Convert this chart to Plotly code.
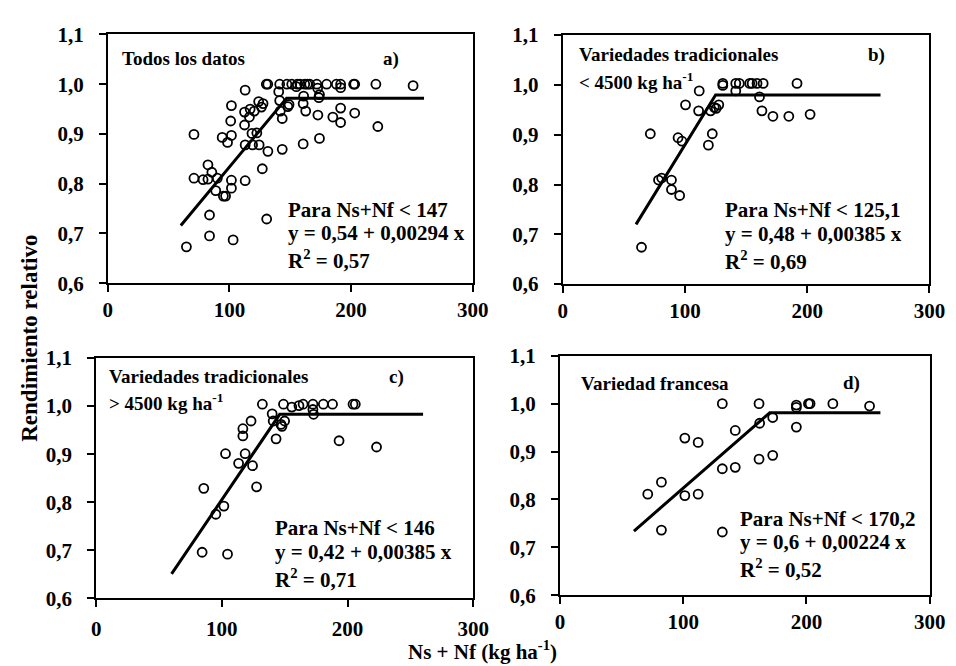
import plotly.graph_objects as go

W, H = 956, 666

# ---------------- data ----------------
x_ticks = [0, 100, 200, 300]
x_ticktext = ["0", "100", "200", "300"]
y_ticks = [0.6, 0.7, 0.8, 0.9, 1.0, 1.1]
y_ticktext = ["0,6", "0,7", "0,8", "0,9", "1,0", "1,1"]

# a) Todos los datos
a_x = [130.3, 131.5, 141.3, 147.2, 151.2, 155.8, 158, 161.9, 164, 166, 171.8, 179.9, 187.9, 191.4, 202.1, 203, 220.4, 251,
       155, 172.5, 191.4,
       112.9, 140.5, 141.3, 174, 173.5, 149, 148, 161, 160.6, 162.7, 172.7, 185, 191.4, 191.4, 203, 222,
       141.8, 143.4, 143.4, 160.6, 174, 131.6, 127, 130.6,
       101.6, 101, 101.6, 94, 98.4, 112.4, 112.4, 116.4, 117, 120.4, 124, 127.6, 126.3, 118.5, 122.5, 119, 124.4, 112.9,
       112.9, 101.6, 101.6, 82.3, 85.5, 70.8, 78.3, 82.3, 90, 88.7, 95, 96.8, 70.8, 83.6, 83.6, 103, 64.6]
a_y = [1.0, 1.0, 1.0, 1.0, 1.0, 1.0, 1.0, 1.0, 1.0, 1.0, 1.0, 1.0, 1.0, 1.0, 1.0, 1.0, 1.0, 0.997,
       0.995, 0.992, 0.993,
       0.988, 0.985, 0.967, 0.979, 0.973, 0.959, 0.955, 0.976, 0.961, 0.946, 0.938, 0.934, 0.952, 0.923, 0.942, 0.915,
       0.946, 0.931, 0.869, 0.880, 0.891, 0.865, 0.830, 0.729,
       0.957, 0.926, 0.897, 0.893, 0.883, 0.944, 0.918, 0.934, 0.950, 0.946, 0.965, 0.961, 0.954, 0.901, 0.902, 0.878, 0.878, 0.878,
       0.806, 0.807, 0.791, 0.838, 0.823, 0.811, 0.808, 0.809, 0.811, 0.786, 0.775, 0.775, 0.899, 0.737, 0.695, 0.687, 0.673]
a_line_x = [60, 147, 260]
a_line_y = [0.716, 0.972, 0.972]

# b) Variedades tradicionales < 4500 kg ha-1
b_x = [71.7, 64.5, 78.4, 81, 89, 89, 95.7, 94.4, 97.6, 100.5, 111.7, 111.2, 119.2, 122.4, 121, 125.6, 127.7, 124,
       131, 131, 141.6, 144.5, 141.6, 153, 155, 159, 164, 161, 163, 172, 185, 191.7, 202.4]
b_y = [0.902, 0.674, 0.809, 0.813, 0.809, 0.790, 0.778, 0.894, 0.887, 0.960, 0.988, 0.948, 0.879, 0.902, 0.948, 0.953, 0.960, 0.955,
       1.003, 0.999, 1.003, 1.003, 0.988, 1.003, 1.003, 1.003, 1.003, 0.976, 0.948, 0.937, 0.937, 1.003, 0.941]
b_line_x = [60, 125.1, 260]
b_line_y = [0.72, 0.98, 0.98]

# c) Variedades tradicionales > 4500 kg ha-1
c_x = [84.3, 85.6, 95.2, 101.6, 102.9, 104.5, 113.3, 116.7, 116.7, 118.5, 123.2, 124.4, 127.6, 132.2, 140, 140.8, 143.1,
       147, 147.8, 149.9, 149, 155.6, 161.3, 164.6, 172.4, 172.4, 172.9, 180.7, 188, 193.2, 204.3, 206.1, 223]
c_y = [0.696, 0.829, 0.775, 0.792, 0.901, 0.692, 0.881, 0.953, 0.938, 0.901, 0.969, 0.876, 0.832, 1.004, 0.984, 0.969, 0.932,
       0.962, 0.958, 0.969, 1.004, 0.998, 1.001, 1.004, 1.004, 0.993, 0.983, 1.004, 1.004, 0.928, 1.004, 1.004, 0.915]
c_line_x = [60, 146, 260]
c_line_y = [0.651, 0.983, 0.983]

# d) Variedad francesa
d_x = [71.2, 82.3, 82.3, 101.3, 101.3, 112.1, 112.1, 131.7, 131.7, 131.7, 142.2, 142.2, 161.5, 162, 161.5,
       172.6, 172.6, 191.8, 191.8, 191.8, 201.6, 202.9, 221.4, 251.2]
d_y = [0.811, 0.836, 0.736, 0.928, 0.808, 0.919, 0.811, 1.0, 0.864, 0.732, 0.944, 0.867, 1.0, 0.959, 0.884,
       0.971, 0.892, 0.997, 0.992, 0.951, 1.0, 1.0, 1.0, 0.995]
d_line_x = [60, 170.2, 260]
d_line_y = [0.734, 0.981, 0.981]

# ---------------- layout helpers ----------------
def px(x):
    return x / W

def py(y):
    return 1 - y / H

FONT = "Liberation Serif"

panels = [
    # (data x, data y, line x, line y, pixel box [x0, x1, ytop, ybottom], x tick label standoff)
    (a_x, a_y, a_line_x, a_line_y, [97, 470, 15, 273], 0),
    (b_x, b_y, b_line_x, b_line_y, [562, 937, 15.7, 274], 0),
    (c_x, c_y, c_line_x, c_line_y, [85, 470.7, 350.7, 600], 3),
    (d_x, d_y, d_line_x, d_line_y, [559.3, 937.3, 348.3, 596.7], 0),
]

fig = go.Figure()
layout_axes = {}
for i, (sx, sy, lx, ly, box, xsoff) in enumerate(panels, start=1):
    xn = "x" if i == 1 else f"x{i}"
    yn = "y" if i == 1 else f"y{i}"
    fig.add_trace(go.Scatter(x=sx, y=sy, mode="markers", xaxis=xn, yaxis=yn,
                             marker=dict(symbol="circle-open", size=9, color="black",
                                         line=dict(width=1.8, color="black")),
                             showlegend=False, hoverinfo="skip"))
    fig.add_trace(go.Scatter(x=lx, y=ly, mode="lines", xaxis=xn, yaxis=yn,
                             line=dict(color="black", width=3),
                             showlegend=False, hoverinfo="skip"))
    common = dict(showline=True, linewidth=2, linecolor="black", mirror=True,
                  showgrid=False, zeroline=False, ticks="outside", ticklen=7,
                  tickwidth=2, tickcolor="black",
                  tickfont=dict(family=FONT, size=21, color="black", weight="bold"))
    layout_axes["xaxis" if i == 1 else f"xaxis{i}"] = dict(
        domain=[px(box[0]), px(box[1])], range=[0, 300], tickvals=x_ticks, ticktext=x_ticktext,
        anchor=yn, ticklabelstandoff=xsoff, **common)
    layout_axes["yaxis" if i == 1 else f"yaxis{i}"] = dict(
        domain=[py(box[3]), py(box[2])], range=[0.6, 1.1], tickvals=y_ticks, ticktext=y_ticktext,
        anchor=xn, ticklabelstandoff=11, **common)

annots = []

def txt(s, x, y, size=21, xanchor="left", angle=0):
    annots.append(dict(text=s, x=px(x), y=py(y), xref="paper", yref="paper",
                       xanchor=xanchor, yanchor="middle", showarrow=False, textangle=angle,
                       font=dict(family=FONT, size=size, color="black", weight="bold")))

# panel a
txt("Todos los datos", 109, 40, 19)
txt("a)", 376, 40, 19)
txt("Para Ns+Nf < 147", 279, 197)
txt("y = 0,54 + 0,00294 x", 279, 221)
txt("R<sup>2</sup> = 0,57", 279, 248)
# panel b
txt("Variedades tradicionales", 577, 36, 19)
txt("< 4500 kg ha<sup>-1</sup>", 577, 63, 19)
txt("b)", 872, 36, 19)
txt("Para Ns+Nf < 125,1", 726, 197)
txt("y = 0,48 + 0,00385 x", 726, 222)
txt("R<sup>2</sup> = 0,69", 726, 249)
# panel c
txt("Variedades tradicionales", 96, 370, 19)
txt("> 4500 kg ha<sup>-1</sup>", 96, 396, 19)
txt("c)", 382, 370, 19)
txt("Para Ns+Nf < 146", 266, 527)
txt("y = 0,42 + 0,00385 x", 266, 552)
txt("R<sup>2</sup> = 0,71", 266, 579)
# panel d
txt("Variedad francesa", 579, 377, 19)
txt("d)", 847, 377, 19)
txt("Para Ns+Nf < 170,2", 741, 518)
txt("y = 0,6 + 0,00224 x", 741, 542)
txt("R<sup>2</sup> = 0,52", 741, 569)
# axis titles
txt("Ns + Nf (kg ha<sup>-1</sup>)", 480, 654, 21, xanchor="center")
txt("Rendimiento relativo", 16, 330, 23, xanchor="center", angle=-90)

fig.update_layout(width=W, height=H, margin=dict(l=0, r=0, t=0, b=0),
                  paper_bgcolor="white", plot_bgcolor="white",
                  annotations=annots, **layout_axes)

fig.write_html("out.html")
